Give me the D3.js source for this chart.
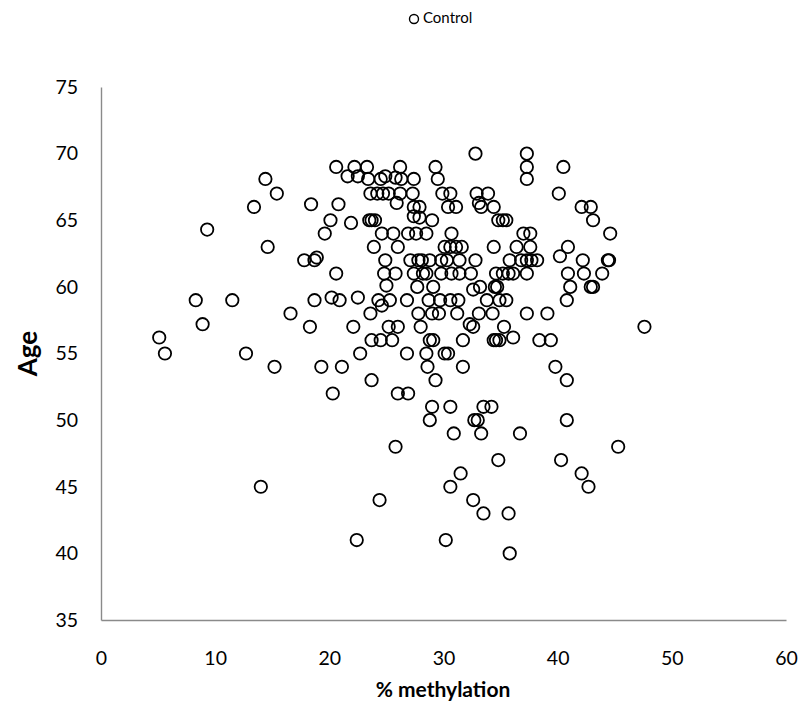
<!DOCTYPE html>
<html>
<head>
<meta charset="utf-8">
<script src="https://cdn.jsdelivr.net/npm/d3@7"></script>
<style>
  html, body { margin: 0; padding: 0; background: #fff; }
  svg { display: block; }
  text { font-family: Lato, "Open Sans", "Liberation Sans", sans-serif; fill: #000; }
</style>
</head>
<body>
<script>
// % methylation (x) and age (y) of the control samples
const methylation = [
  32.8, 37.3,
  20.6, 22.2, 23.3, 26.2, 29.3, 37.3, 40.5,
  14.4, 21.6, 22.5, 23.4, 24.5, 24.9, 25.8, 26.3, 27.4, 29.5, 37.3,
  15.4, 23.6, 24.2, 24.7, 25.2, 26.2, 27.3, 29.9, 30.6, 32.9, 33.9, 40.1,
  13.4, 18.4, 20.8, 25.9, 27.4, 27.9, 30.4, 31.1, 33.1, 33.3, 34.4, 42.1, 42.9,
  20.1, 21.9, 23.5, 23.7, 24.0, 27.4, 27.9, 29.0, 34.8, 35.2, 35.5, 43.1,
  9.3, 19.6, 24.6, 25.6, 26.9, 27.6, 28.5, 30.7, 37.0, 37.6, 44.6,
  14.6, 23.9, 26.0, 30.1, 30.6, 31.1, 31.6, 34.4, 36.4, 37.6, 40.9,
  17.8, 18.7, 18.9, 24.9, 27.1, 27.8, 28.1, 28.8, 29.8, 30.3, 31.4, 32.8, 35.8, 36.8, 37.3, 37.7, 38.2, 40.2, 42.2, 44.4, 44.5,
  20.6, 24.8, 25.8, 27.4, 28.2, 28.5, 29.8, 30.7, 31.4, 32.4, 34.6, 35.2, 35.7, 36.1, 37.3, 40.9, 42.3, 43.9,
  25.0, 27.7, 29.1, 32.6, 33.2, 34.5, 34.7, 41.1, 42.9, 43.1,
  8.3, 11.5, 18.7, 20.2, 20.9, 22.5, 24.3, 24.6, 25.3, 26.8, 28.7, 29.7, 30.6, 31.3, 33.8, 34.9, 35.5, 40.8,
  16.6, 23.6, 27.8, 29.0, 29.6, 31.2, 33.1, 34.3, 37.3, 39.1,
  8.9, 18.3, 22.1, 25.2, 26.0, 28.0, 32.3, 32.6, 35.3, 47.6,
  5.1, 23.7, 24.5, 25.5, 28.8, 29.1, 31.7, 34.4, 34.6, 34.9, 36.1, 38.4, 39.4,
  5.6, 12.7, 22.7, 26.8, 28.5, 30.1, 30.4,
  15.2, 19.3, 21.1, 28.6, 31.7, 39.8,
  23.7, 29.3, 40.8,
  20.3, 26.0, 26.9,
  29.0, 30.6, 33.5, 34.2,
  28.8, 32.7, 33.0, 40.8,
  30.9, 33.3, 36.7,
  25.8, 45.3,
  34.8, 40.3,
  31.5, 42.1,
  14.0, 30.6, 42.7,
  24.4, 32.6,
  33.5, 35.7,
  22.4, 30.2,
  35.8
];
const age = [
  70, 70,
  69, 69, 69, 69, 69, 69, 69,
  68.1, 68.3, 68.3, 68.1, 68.1, 68.3, 68.2, 68.1, 68.1, 68.1, 68.1,
  67, 67, 67, 67, 67, 67, 67, 67, 67, 67, 67, 67,
  66, 66.2, 66.2, 66.3, 66, 66, 66, 66, 66.3, 66, 66, 66, 66,
  65, 64.8, 65, 65, 65, 65.3, 65.2, 65, 65, 65, 65, 65,
  64.3, 64, 64, 64, 64, 64, 64, 64, 64, 64, 64,
  63, 63, 63, 63, 63, 63, 63, 63, 63, 63, 63,
  62, 62, 62.2, 62, 62, 62, 62, 62, 62, 62, 62, 62, 62, 62, 62, 62, 62, 62.3, 62, 62, 62,
  61, 61, 61, 61, 61, 61, 61, 61, 61, 61, 61, 61, 61, 61, 61, 61, 61, 61,
  60.1, 60, 60, 59.8, 60, 60, 60, 60, 60, 60,
  59, 59, 59, 59.2, 59, 59.2, 59, 58.6, 59, 59, 59, 59, 59, 59, 59, 59, 59, 59,
  58, 58, 58, 58, 58, 58, 58, 58, 58, 58,
  57.2, 57, 57, 57, 57, 57, 57.2, 57, 57, 57,
  56.2, 56, 56, 56, 56, 56, 56, 56, 56, 56, 56.2, 56, 56,
  55, 55, 55, 55, 55, 55, 55,
  54, 54, 54, 54, 54, 54,
  53, 53, 53,
  52, 52, 52,
  51, 51, 51, 51,
  50, 50, 50, 50,
  49, 49, 49,
  48, 48,
  47, 47,
  46, 46,
  45, 45, 45,
  44, 44,
  43, 43,
  41, 41,
  40
];
const xTicks = [0, 10, 20, 30, 40, 50, 60];
const yTicks = [35, 40, 45, 50, 55, 60, 65, 70, 75];
const seriesName = "Control";
const xTitle = "% methylation";
const yTitle = "Age";

const W = 806, H = 714;
const plot = { left: 101, right: 786, top: 87, bottom: 620 };

const svg = d3.select("body").append("svg")
  .attr("width", W).attr("height", H);

const x = d3.scaleLinear().domain([0, 60]).range([plot.left, plot.right]);
const y = d3.scaleLinear().domain([35, 75]).range([plot.bottom, plot.top]);

const axisColor = "#8a8a8a";
const tickFont = 19.5;

// x axis
const gx = svg.append("g")
  .attr("transform", `translate(0,${plot.bottom})`)
  .call(d3.axisBottom(x).tickValues(xTicks).tickSize(0).tickPadding(31).tickFormat(d3.format("d")));
gx.select(".domain").attr("stroke", axisColor).attr("stroke-width", 1.4);
gx.selectAll("text").attr("font-size", tickFont).attr("fill", "#000")
  .style("font-family", "Lato, 'Open Sans', sans-serif");

// y axis
const gy = svg.append("g")
  .attr("transform", `translate(${plot.left},0)`)
  .call(d3.axisLeft(y).tickValues(yTicks).tickSize(0).tickPadding(23).tickFormat(d3.format("d")));
gy.select(".domain").attr("stroke", axisColor).attr("stroke-width", 1.4);
gy.selectAll("text").attr("font-size", tickFont).attr("fill", "#000")
  .style("font-family", "Lato, 'Open Sans', sans-serif");

// axis titles
svg.append("text")
  .attr("x", 443).attr("y", 692)
  .attr("text-anchor", "middle").attr("dominant-baseline", "middle")
  .attr("font-size", 21).attr("font-weight", "bold")
  .text(xTitle);

svg.append("text")
  .attr("transform", `translate(30,${(plot.top + plot.bottom) / 2}) rotate(-90)`)
  .attr("text-anchor", "middle").attr("dominant-baseline", "middle")
  .attr("font-size", 26).attr("font-weight", "bold")
  .text(yTitle);

// points
const points = methylation.map((m, i) => ({ m, a: age[i] }));
svg.append("g")
  .selectAll("circle")
  .data(points)
  .join("circle")
  .attr("cx", d => x(d.m))
  .attr("cy", d => y(d.a))
  .attr("r", 6.2)
  .attr("fill", "none")
  .attr("stroke", "#000")
  .attr("stroke-width", 1.8);

// legend
const lg = svg.append("g").attr("transform", "translate(414,19)");
lg.append("circle").attr("r", 4.5).attr("fill", "none")
  .attr("stroke", "#000").attr("stroke-width", 1.4);
lg.append("text").attr("x", 9).attr("y", 0)
  .attr("dominant-baseline", "middle").attr("font-size", 15)
  .text(seriesName);
</script>
</body>
</html>
